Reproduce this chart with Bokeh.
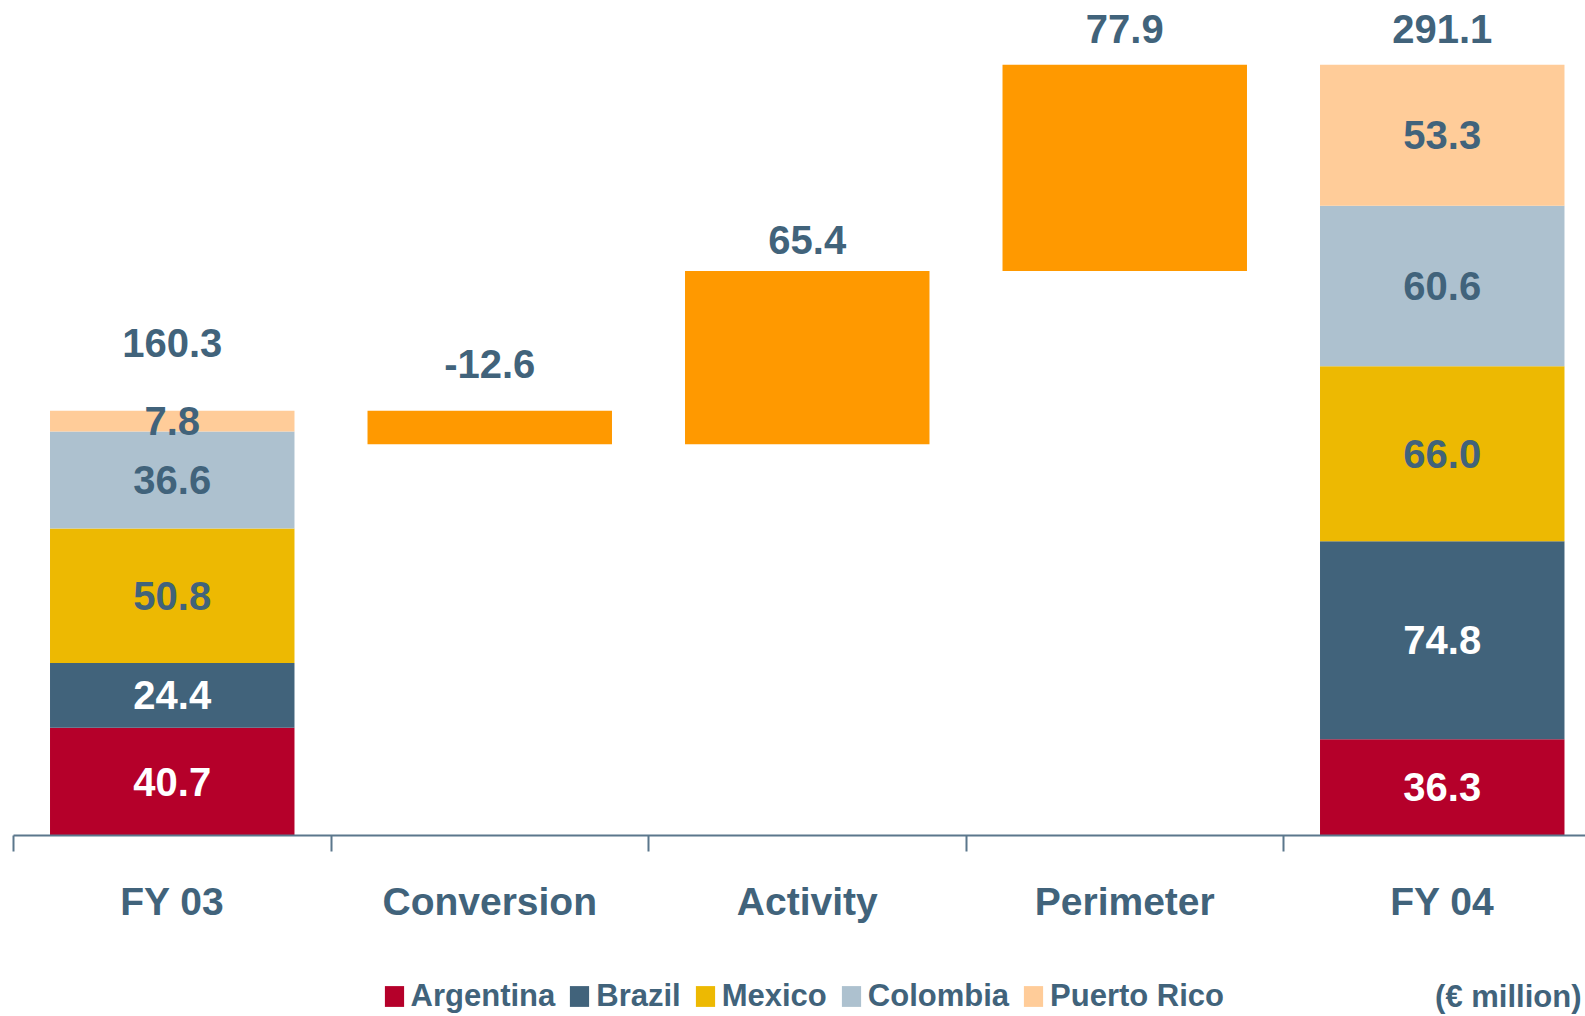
from bokeh.plotting import figure
from bokeh.models import ColumnDataSource, Range1d, FixedTicker, Legend, LegendItem, Label
from bokeh.core.properties import value
from bokeh.embed import file_html
from bokeh.resources import INLINE

# ---------------- data ----------------
categories = ["FY 03", "Conversion", "Activity", "Perimeter", "FY 04"]
countries = ["Argentina", "Brazil", "Mexico", "Colombia", "Puerto Rico"]
fy03_values = [40.7, 24.4, 50.8, 36.6, 7.8]
fy04_values = [36.3, 74.8, 66.0, 60.6, 53.3]
fy03_total = 160.3
fy04_total = 291.1
step_names = ["Conversion", "Activity", "Perimeter"]
step_values = [-12.6, 65.4, 77.9]

# ---------------- style ----------------
FONT = value("Liberation Sans")
SLATE = "#41637B"
country_colors = ["#B5002A", "#41637B", "#EDB902", "#ADC1CF", "#FFCC99"]
inner_label_colors = ["white", "white", SLATE, SLATE, SLATE]
step_color = "#FF9900"
BAR_W = 0.77

W, H = 1585, 1016
axis_left_px = 13
axis_y_px = 835
px_per_unit = 2.649
cat_px = 317.5

xs = {c: i + 1 for i, c in enumerate(categories)}
x_start = 0.5 - axis_left_px / cat_px
x_end = 0.5 + (W - axis_left_px) / cat_px
y_start = -(H - axis_y_px) / px_per_unit
y_end = axis_y_px / px_per_unit

p = figure(width=W, height=H, output_backend="svg", toolbar_location=None,
           x_range=Range1d(x_start, x_end), y_range=Range1d(y_start, y_end),
           y_axis_location=None, min_border=0)
p.outline_line_color = None
p.grid.visible = False
p.background_fill_color = "white"
p.border_fill_color = "white"

# stacked end bars
stack_src = ColumnDataSource(dict(
    x=[xs["FY 03"], xs["FY 04"]],
    **{c: [a, b] for c, a, b in zip(countries, fy03_values, fy04_values)}))
renderers = p.vbar_stack(countries, x="x", width=BAR_W, color=country_colors,
                         line_color=None, source=stack_src)

# labels inside stacked bars
lab_x, lab_y, lab_t, lab_c = [], [], [], []
for col_vals, cat in ((fy03_values, "FY 03"), (fy04_values, "FY 04")):
    base = 0.0
    for v, col in zip(col_vals, inner_label_colors):
        lab_x.append(xs[cat]); lab_y.append(base + v / 2)
        lab_t.append(f"{v:.1f}"); lab_c.append(col)
        base += v
p.text(x=lab_x, y=lab_y, text=lab_t, text_color=lab_c, text_font=FONT,
       text_font_style="bold", text_font_size="40px", text_align="center",
       text_baseline="middle")

# waterfall steps
run = fy03_total
bx, bb, bt = [], [], []
for name, d in zip(step_names, step_values):
    bx.append(xs[name]); bb.append(min(run, run + d)); bt.append(max(run, run + d))
    run += d
p.vbar(x=bx, bottom=bb, top=bt, width=BAR_W, color=step_color, line_color=None)

# labels above
top_x = [xs["FY 03"]] + bx + [xs["FY 04"]]
top_y = [fy03_total] + bt + [fy04_total]
top_t = [f"{fy03_total:.1f}"] + [f"{d:.1f}" for d in step_values] + [f"{fy04_total:.1f}"]
top_off = [-68, -47, -31, -36, -35]
p.text(x=top_x, y=top_y, text=top_t, y_offset=top_off, text_color=SLATE,
       text_font=FONT, text_font_style="bold", text_font_size="40px",
       text_align="center", text_baseline="middle")

# x axis, pinned at y = 0
ax = p.xaxis[0]
ax.fixed_location = 0
ax.bounds = (0.5, x_end)
ax.ticker = FixedTicker(ticks=[xs[c] for c in categories],
                        minor_ticks=[i + 0.5 for i in range(len(categories))])
ax.major_label_overrides = {xs[c]: c for c in categories}
ax.axis_line_color = "#5B778C"
ax.axis_line_width = 2
ax.major_tick_line_color = None
ax.major_tick_out = 0
ax.major_tick_in = 0
ax.minor_tick_line_color = "#5B778C"
ax.minor_tick_line_width = 2
ax.minor_tick_out = 16
ax.minor_tick_in = 0
ax.major_label_standoff = 28
ax.major_label_text_font = "Liberation Sans"
ax.major_label_text_font_style = "bold"
ax.major_label_text_font_size = "39px"
ax.major_label_text_color = SLATE

# legend
legend = Legend(items=[LegendItem(label=c, renderers=[r]) for c, r in zip(countries, renderers)],
                orientation="horizontal", location=(381.6, 2),
                background_fill_alpha=0, border_line_color=None, padding=0, margin=0,
                spacing=12, label_standoff=5, glyph_width=24, glyph_height=26,
                label_text_font="Liberation Sans", label_text_font_style="bold",
                label_text_font_size="31px", label_text_color=SLATE)
p.add_layout(legend, "center")

p.add_layout(Label(x=1581, y=20, x_units="screen", y_units="screen",
                   text="(€ million)", text_align="right", text_baseline="middle",
                   text_font="Liberation Sans", text_font_style="bold",
                   text_font_size="31px", text_color=SLATE))

open("out.html", "w").write(file_html(p, INLINE))
